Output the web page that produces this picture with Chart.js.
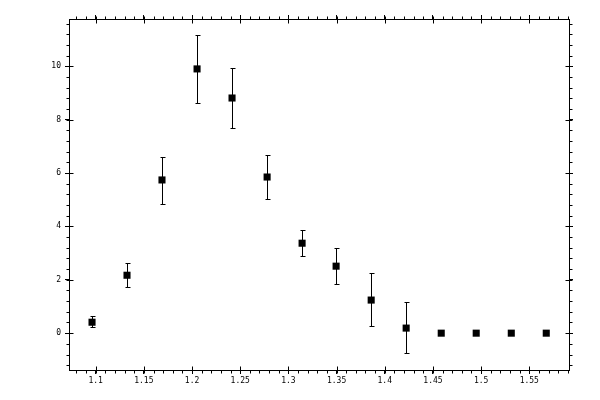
<!DOCTYPE html>
<html>
<head>
<meta charset="utf-8">
<script src="https://cdn.jsdelivr.net/npm/chart.js@4.4.0/dist/chart.umd.min.js"></script>
<style>
  html, body { margin: 0; padding: 0; background: #fff; }
  #wrap { width: 600px; height: 400px; }
</style>
</head>
<body>
<div id="wrap"><canvas id="myChart" width="600" height="400"></canvas></div>
<script>
// data
const xValues = [1.0962, 1.1325, 1.1688, 1.2052, 1.2415, 1.2779, 1.3142, 1.3495, 1.3859, 1.4222, 1.4586, 1.4949, 1.5313, 1.5676];
const yValues = [0.41, 2.17, 5.74, 9.90, 8.81, 5.85, 3.37, 2.51, 1.24, 0.19, 0, 0, 0, 0];
const yHigh   = [0.64, 2.62, 6.60, 11.17, 9.94, 6.67, 3.86, 3.19, 2.25, 1.16, null, null, null, null];
const yLow    = [0.22, 1.72, 4.84, 8.62, 7.69, 5.02, 2.89, 1.84, 0.26, -0.75, null, null, null, null];

const xTicks = [1.1, 1.15, 1.2, 1.25, 1.3, 1.35, 1.4, 1.45, 1.5, 1.55];
const yTicks = [0, 2, 4, 6, 8, 10];
const xMinorStep = 0.01;
const yMinorStep = 0.4;

const xMin = 1.0723, xMax = 1.5912;
const yMin = -1.38, yMax = 11.77;

const tickFont = { family: 'DejaVu Sans Mono', size: 8 };

const setTicks = (list) => (scale) => { scale.ticks = list.map(v => ({ value: v })); };
const fmt = (v) => String(+v.toFixed(2));

// minor ticks + inward half of the major ticks
const axisTicks = {
  id: 'axisTicks',
  afterDraw(chart) {
    const c = chart.ctx;
    const a = chart.chartArea;
    const xs = chart.scales.x, ys = chart.scales.y;
    const L = Math.round(a.left) + 0.5, R = Math.round(a.right) + 0.5;
    const T = Math.round(a.top) + 0.5, B = Math.round(a.bottom) + 0.5;
    c.save();
    c.strokeStyle = '#000';
    c.lineWidth = 1;
    c.beginPath();
    // x minor
    for (let v = Math.ceil(xMin / xMinorStep) * xMinorStep; v <= xMax; v += xMinorStep) {
      const p = Math.round(xs.getPixelForValue(v)) + 0.5;
      c.moveTo(p, B); c.lineTo(p, B + 3);
      c.moveTo(p, T); c.lineTo(p, T - 3);
    }
    // y minor
    for (let v = Math.ceil(yMin / yMinorStep) * yMinorStep; v <= yMax; v += yMinorStep) {
      const p = Math.round(ys.getPixelForValue(v)) + 0.5;
      c.moveTo(L, p); c.lineTo(L - 3, p);
      c.moveTo(R, p); c.lineTo(R + 3, p);
    }
    // major inward
    xTicks.forEach(v => {
      const p = Math.round(xs.getPixelForValue(v)) + 0.5;
      c.moveTo(p, B); c.lineTo(p, B - 4);
      c.moveTo(p, T); c.lineTo(p, T + 4);
    });
    yTicks.forEach(v => {
      const p = Math.round(ys.getPixelForValue(v)) + 0.5;
      c.moveTo(L, p); c.lineTo(L + 4, p);
      c.moveTo(R, p); c.lineTo(R - 4, p);
    });
    c.stroke();
    c.restore();
  }
};

// vertical error bars with small caps
const errorBars = {
  id: 'errorBars',
  beforeDatasetsDraw(chart) {
    const c = chart.ctx;
    const xs = chart.scales.x, ys = chart.scales.y;
    c.save();
    c.strokeStyle = '#000';
    c.lineWidth = 1;
    c.beginPath();
    xValues.forEach((x, i) => {
      if (yHigh[i] == null) return;
      const px = Math.round(xs.getPixelForValue(x)) + 0.5;
      const top = Math.round(ys.getPixelForValue(yHigh[i])) + 0.5;
      const bot = Math.round(ys.getPixelForValue(yLow[i])) + 0.5;
      c.moveTo(px, top); c.lineTo(px, bot);
      c.moveTo(px - 2, top); c.lineTo(px + 3, top);
      c.moveTo(px - 2, bot); c.lineTo(px + 3, bot);
    });
    c.stroke();
    c.restore();
  }
};

const gridOpts = {
  display: true,
  drawOnChartArea: false,
  drawTicks: true,
  tickLength: 4,
  tickColor: '#000',
  tickWidth: 1,
  color: '#000'
};
const borderOpts = { display: true, color: '#000', width: 1 };

Chart.defaults.color = '#000';
Chart.defaults.font = tickFont;

const ctx = document.getElementById('myChart').getContext('2d');

window.myChart = new Chart(ctx, {
  type: 'scatter',
  data: {
    datasets: [{
      data: xValues.map((x, i) => ({ x: x, y: yValues[i] })),
      pointStyle: 'rect',
      pointRadius: 5,
      pointHoverRadius: 5,
      backgroundColor: '#000',
      borderColor: '#000',
      borderWidth: 0
    }]
  },
  options: {
    responsive: false,
    animation: false,
    devicePixelRatio: 1,
    layout: { padding: 0 },
    plugins: { legend: { display: false }, tooltip: { enabled: false } },
    scales: {
      x: {
        type: 'linear', position: 'bottom', min: xMin, max: xMax,
        afterBuildTicks: setTicks(xTicks),
        afterFit: (s) => { s.height = 30; },
        ticks: { font: tickFont, padding: 2, maxRotation: 0, autoSkip: false, callback: fmt },
        grid: gridOpts, border: borderOpts
      },
      x2: {
        type: 'linear', position: 'top', min: xMin, max: xMax,
        afterBuildTicks: setTicks(xTicks),
        afterFit: (s) => { s.height = 19; },
        ticks: { display: false },
        grid: gridOpts, border: borderOpts
      },
      y: {
        type: 'linear', position: 'left', min: yMin, max: yMax,
        afterBuildTicks: setTicks(yTicks),
        afterFit: (s) => { s.width = 69; },
        ticks: { font: tickFont, padding: 4, autoSkip: false, callback: fmt },
        grid: gridOpts, border: borderOpts
      },
      y2: {
        type: 'linear', position: 'right', min: yMin, max: yMax,
        afterBuildTicks: setTicks(yTicks),
        afterFit: (s) => { s.width = 31; },
        ticks: { display: false },
        grid: gridOpts, border: borderOpts
      }
    }
  },
  plugins: [errorBars, axisTicks]
});
</script>
</body>
</html>
